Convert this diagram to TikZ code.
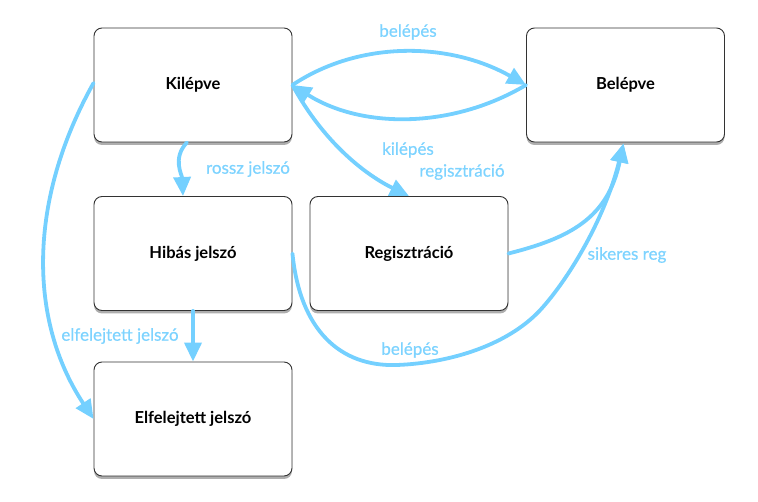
\documentclass[tikz,border=0pt]{standalone}
\usepackage{fontspec}
\setmainfont{Lato}
\newfontfamily\lblfont{Lato}[FakeBold=0.6]
\usetikzlibrary{arrows.meta,shadows}
\definecolor{edgeblue}{HTML}{74D0FF}
\definecolor{labelblue}{HTML}{7DD3FF}
\definecolor{boxline}{HTML}{333333}
\tikzset{
  statebox/.style={draw=boxline, line width=0.9pt, fill=white, rounded corners=8pt,
    minimum width=198pt, minimum height=114pt, inner sep=0pt,
    font=\fontsize{16.5}{18}\selectfont\bfseries,
    drop shadow={shadow xshift=0pt, shadow yshift=-3pt, opacity=0.45, fill=black!70}},
  conn/.style={draw=edgeblue, line width=3.8pt, line cap=round,
    -{Triangle[length=19pt,width=17pt]}},
  lbl/.style={text=labelblue, font=\lblfont\fontsize{17}{19}\selectfont, inner sep=0pt}
}
\begin{document}
\begin{tikzpicture}[x=1pt,y=-1pt]
\useasboundingbox (0,0) rectangle (758,502);
\node[statebox] (kil) at (193,85) {Kilépve};
\node[statebox] (bel) at (625.5,85) {Belépve};
\node[statebox] (hib) at (193,253.5) {Hibás jelszó};
\node[statebox] (reg) at (409,253.5) {Regisztráció};
\node[statebox] (ele) at (193,419) {Elfelejtett jelszó};

\coordinate (belin) at ([xshift=-2pt,yshift=-1pt]bel.south);
\draw[conn] (kil.east) .. controls (360,40) and (450,42) .. (bel.west);
\draw[conn] (bel.west) .. controls (450,130) and (360,128) .. (kil.east);
\draw[conn] (kil.east) .. controls (325,145) and (368,176) .. (reg.north);
\draw[conn] ([xshift=-6pt]kil.south) .. controls (172,158) and (182,175) .. ([xshift=-10pt]hib.north);
\draw[conn] (hib.south) -- (ele.north);
\draw[conn] ([yshift=2pt]kil.west) .. controls (28,200) and (28,320) .. (ele.west);
\draw[conn] (reg.east) .. controls (570,238) and (608,218) .. (belin);
\draw[conn] (hib.east) .. controls (300,330) and (340,367) .. (397,365)
   .. controls (450,363) and (510,345) .. (543,307)
   .. controls (572,274) and (606,215) .. (belin);

\node[lbl] (l1) at (408,32) {belépés};
\node[lbl] (l2) at (408,150) {kilépés};
\node[lbl] (l3) at (462,172) {regisztráció};
\node[lbl] (l4) at (248,169) {rossz jelszó};
\node[lbl] (l5) at (120,336) {elfelejtett jelszó};
\node[lbl] (l6) at (627,255) {sikeres reg};
\node[lbl] (l7) at (410,350) {belépés};
\end{tikzpicture}
\end{document}
